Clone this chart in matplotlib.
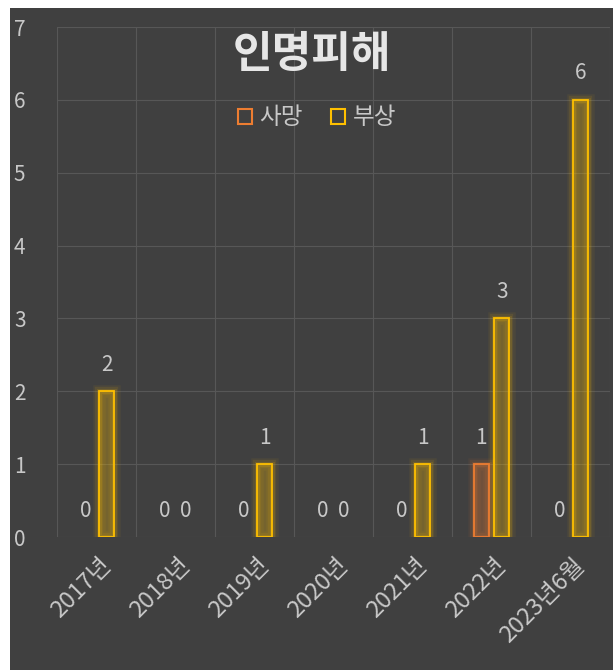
import matplotlib.pyplot as plt
import numpy as np
from matplotlib.patches import Rectangle, Patch

plt.rcParams['font.family'] = ['Noto Sans CJK KR', 'DejaVu Sans']

categories = ['2017년', '2018년', '2019년', '2020년', '2021년', '2022년', '2023년6월']
deaths = [0, 0, 0, 0, 0, 1, 0]
injuries = [2, 0, 1, 0, 1, 3, 6]
series_names = ['사망', '부상']
title = '인명피해'

ORANGE = '#ED7D31'
GOLD = '#FFC000'
BG = '#404040'
TXT = '#c8c8c8'

fig = plt.figure(figsize=(6.13, 6.70), dpi=100)
fig.patch.set_facecolor('white')
fig.add_artist(Rectangle((10 / 613, 0), 603 / 613, 662 / 670, transform=fig.transFigure,
                         facecolor=BG, edgecolor='none', zorder=0))

ax = fig.add_axes([57 / 613, 1 - 537 / 670, 553 / 613, 510 / 670])
ax.set_facecolor('none')

x = np.arange(len(categories))
width = 0.19
offset = 0.13


def glow_bars(xpos, vals, color):
    vals = np.array(vals)
    keep = vals > 0
    xs, vs = xpos[keep], vals[keep]
    for lw, a in [(9, 0.06), (6, 0.09), (3.5, 0.15)]:
        ax.bar(xs, vs, width, facecolor='none', edgecolor=color, linewidth=lw,
               alpha=a, zorder=2)
    ax.bar(xs, vs, width, facecolor=color, alpha=0.28, edgecolor='none', zorder=3)
    ax.bar(xs, vs, width, facecolor='none', edgecolor=color, linewidth=1.3, zorder=4)
    for xi, v in zip(xpos, vals):
        ax.annotate(str(v), (xi, v), xytext=(0, 19), textcoords='offset points',
                    ha='center', va='center', color=TXT, fontsize=15, zorder=5)


glow_bars(x - offset, deaths, ORANGE)
glow_bars(x + offset, injuries, GOLD)

ax.set_xlim(-0.5, len(categories) - 0.5)
ax.set_ylim(0, 7)
ax.set_yticks(range(8))
ax.set_xticks(x + 0.03)
ax.set_xticklabels(categories, rotation=45, ha='right', rotation_mode='anchor')
ax.tick_params(axis='x', length=0, pad=12, colors=TXT, labelsize=17)
ax.tick_params(axis='y', length=0, pad=31, colors=TXT, labelsize=15)
for lbl in ax.get_yticklabels():
    lbl.set_horizontalalignment('left')

ax.set_xticks(np.arange(-0.5, len(categories)), minor=True)
ax.tick_params(axis='x', which='minor', length=0)
ax.grid(True, which='minor', axis='x', color='#575757', linewidth=0.8)
ax.grid(True, which='major', axis='y', color='#575757', linewidth=0.8)
ax.set_axisbelow(True)
for s in ax.spines.values():
    s.set_visible(False)

fig.text(312 / 613, 1 - 54 / 670, title, ha='center', va='center', color='#e6e6e6',
         fontsize=31, fontweight='bold')

handles = [Patch(facecolor='none', edgecolor=ORANGE, linewidth=1.5),
           Patch(facecolor='none', edgecolor=GOLD, linewidth=1.5)]
leg = fig.legend(handles, series_names, loc='center', bbox_to_anchor=(317 / 613, 1 - 118 / 670),
                 ncol=2, frameon=False, fontsize=17, handlelength=0.6, handleheight=0.6,
                 handletextpad=0.3, columnspacing=1.2)
for t in leg.get_texts():
    t.set_color(TXT)

fig.savefig('out.png', dpi=100)
